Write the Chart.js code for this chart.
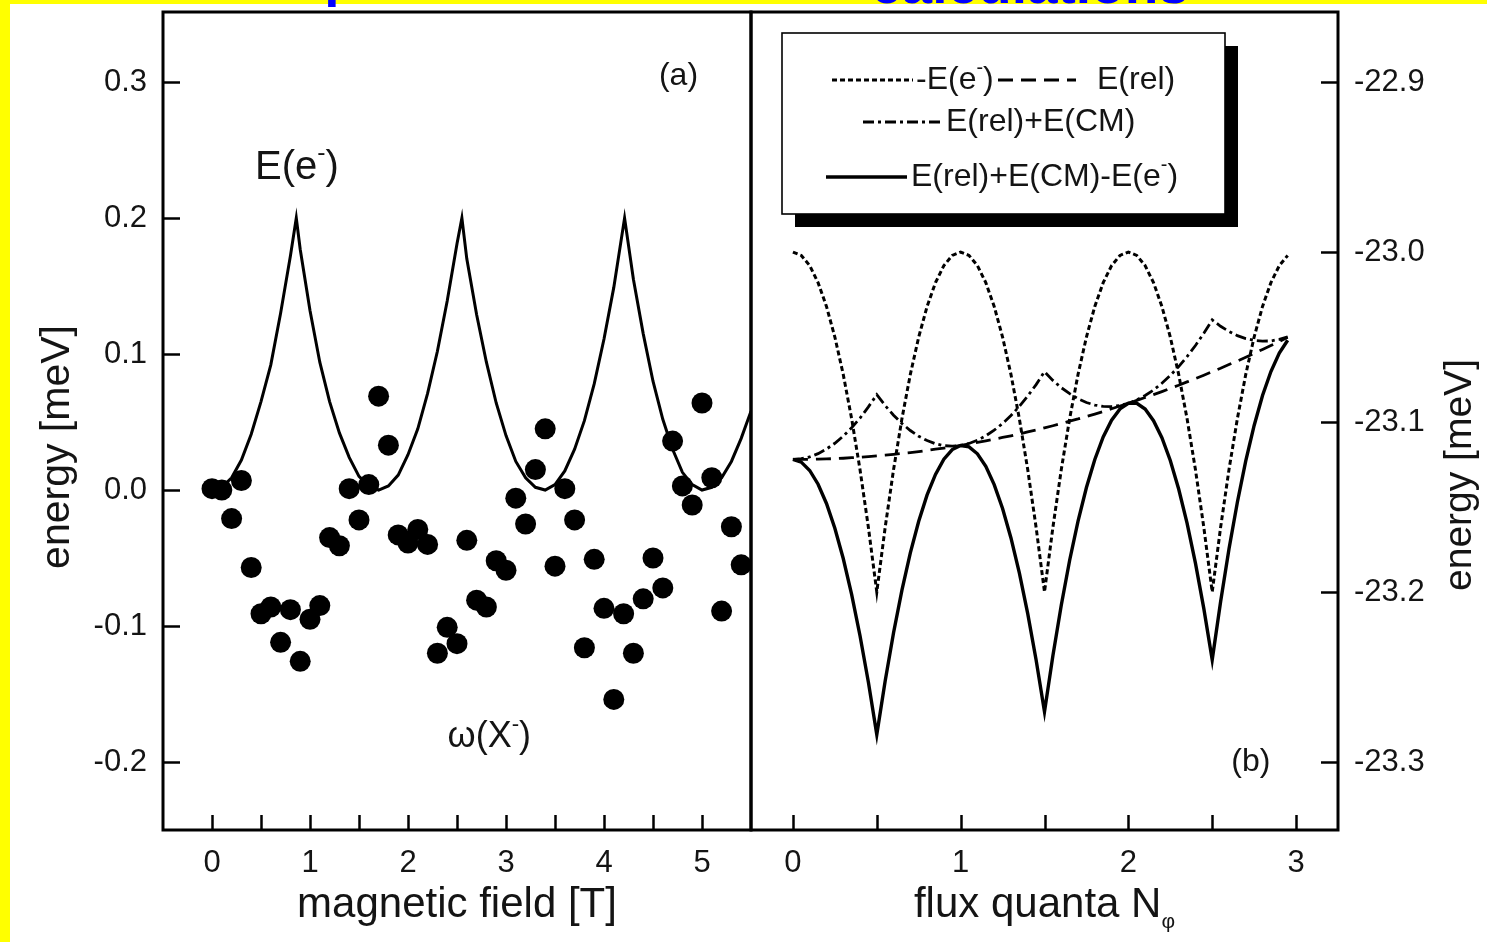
<!DOCTYPE html>
<html>
<head>
<meta charset="utf-8">
<title>X- line shift and model energies</title>
<script src="https://cdn.jsdelivr.net/npm/chart.js@4.4.1/dist/chart.umd.min.js"></script>
<style>
  html, body { margin: 0; padding: 0; }
  body { width: 1487px; height: 942px; background: #ffff00; position: relative; overflow: hidden;
         font-family: "Liberation Sans", Arial, Helvetica, sans-serif; }
  #sheet { position: absolute; left: 10px; top: 4px; right: 0; bottom: 0; background: #fff; }
  canvas { position: absolute; left: 0; top: 0; }
  .slide-title { position: absolute; color: #0000ff; font-weight: bold; font-size: 55px;
                 line-height: 55px; white-space: nowrap; }
</style>
</head>
<body>
<div id="sheet"></div>
<canvas id="panelA" width="1487" height="942"></canvas>
<canvas id="panelB" width="1487" height="942"></canvas>
<div class="slide-title" style="left:202px; top:-51px;">Comparison</div>
<div class="slide-title" style="left:871px; top:-43px;">calculations</div>

<script>
// ---- panel (a): measured X- line position vs magnetic field ----
const fieldT = [0,0.1,0.2,0.3,0.4,0.5,0.6,0.7,0.8,0.9,1.0,1.1,1.2,1.3,1.4,1.5,1.6,1.7,1.8,1.9,
  2.0,2.1,2.2,2.3,2.4,2.5,2.6,2.7,2.8,2.9,3.0,3.1,3.2,3.3,3.4,3.5,3.6,3.7,3.8,3.9,
  4.0,4.1,4.2,4.3,4.4,4.5,4.6,4.7,4.8,4.9,5.0,5.1,5.2,5.3,5.4];
const xMinusShift = [0.001,0.000,-0.021,0.007,-0.057,-0.091,-0.086,-0.112,-0.088,-0.126,
  -0.095,-0.085,-0.035,-0.041,0.001,-0.022,0.004,0.069,0.033,-0.033,
  -0.039,-0.029,-0.040,-0.120,-0.101,-0.113,-0.037,-0.081,-0.086,-0.052,
  -0.059,-0.006,-0.025,0.015,0.045,-0.056,0.001,-0.022,-0.116,-0.051,
  -0.087,-0.154,-0.091,-0.120,-0.080,-0.050,-0.072,0.036,0.003,-0.011,
  0.064,0.009,-0.089,-0.027,-0.055];

// single-electron energy E(e-) along the field axis
const curveField = [0.1,0.2,0.3,0.4,0.5,0.6,0.7,0.8,0.86,0.9,1.0,1.1,1.2,1.3,1.4,1.5,1.6,1.7,1.8,1.9,
  2.0,2.1,2.2,2.3,2.4,2.5,2.55,2.6,2.7,2.8,2.9,3.0,3.1,3.2,3.3,3.4,3.5,3.6,3.7,3.8,3.9,
  4.0,4.1,4.21,4.3,4.4,4.5,4.6,4.7,4.8,4.9,5.0,5.1,5.2,5.3,5.4,5.5];
const curveEnergy = [0.002,0.009,0.022,0.041,0.065,0.092,0.130,0.172,0.200,0.177,0.132,0.094,0.065,0.042,0.024,0.010,0.003,0.000,0.003,0.011,
  0.026,0.045,0.071,0.102,0.139,0.181,0.200,0.170,0.129,0.094,0.064,0.040,0.021,0.009,0.002,0.000,0.004,0.014,0.030,0.051,0.078,
  0.111,0.149,0.200,0.155,0.115,0.080,0.052,0.030,0.013,0.004,0.000,0.002,0.009,0.021,0.038,0.058];

const tickFieldT = [0, 1, 2, 3, 4, 5];
const minorFieldT = [0.5, 1.5, 2.5, 3.5, 4.5];
const tickEnergyA = [-0.2, -0.1, 0.0, 0.1, 0.2, 0.3];

// ---- panel (b): model energies vs number of flux quanta ----
const fluxN = [0,0.05,0.1,0.15,0.2,0.25,0.3,0.35,0.4,0.45,0.5,0.55,0.6,0.65,0.7,0.75,0.8,0.85,0.9,0.95,
  1.0,1.05,1.1,1.15,1.2,1.25,1.3,1.35,1.4,1.45,1.5,1.55,1.6,1.65,1.7,1.75,1.8,1.85,1.9,1.95,
  2.0,2.05,2.1,2.15,2.2,2.25,2.3,2.35,2.4,2.45,2.5,2.55,2.6,2.65,2.7,2.75,2.8,2.85,2.9,2.95];
const minusEe = [-23.000,-23.002,-23.008,-23.018,-23.032,-23.050,-23.072,-23.098,-23.128,-23.162,
  -23.200,-23.162,-23.128,-23.098,-23.072,-23.050,-23.032,-23.018,-23.008,-23.002,
  -23.000,-23.002,-23.008,-23.018,-23.032,-23.050,-23.072,-23.098,-23.128,-23.162,
  -23.200,-23.162,-23.128,-23.098,-23.072,-23.050,-23.032,-23.018,-23.008,-23.002,
  -23.000,-23.002,-23.008,-23.018,-23.032,-23.050,-23.072,-23.098,-23.128,-23.162,
  -23.200,-23.162,-23.128,-23.098,-23.072,-23.050,-23.032,-23.018,-23.008,-23.002];
const eRel = [-23.1220,-23.1220,-23.1219,-23.1218,-23.1217,-23.1215,-23.1213,-23.1210,-23.1207,-23.1203,
  -23.1199,-23.1195,-23.1190,-23.1185,-23.1180,-23.1174,-23.1167,-23.1160,-23.1153,-23.1146,
  -23.1138,-23.1129,-23.1120,-23.1111,-23.1101,-23.1091,-23.1081,-23.1070,-23.1058,-23.1047,
  -23.1034,-23.1022,-23.1009,-23.0995,-23.0982,-23.0967,-23.0953,-23.0938,-23.0922,-23.0906,
  -23.0890,-23.0873,-23.0856,-23.0839,-23.0821,-23.0802,-23.0784,-23.0764,-23.0745,-23.0725,
  -23.0704,-23.0684,-23.0662,-23.0641,-23.0619,-23.0596,-23.0573,-23.0550,-23.0526,-23.0502];
const eRelCm = [-23.1220,-23.1216,-23.1205,-23.1186,-23.1159,-23.1125,-23.1083,-23.1034,-23.0977,-23.0911,
  -23.0839,-23.0903,-23.0960,-23.1009,-23.1050,-23.1084,-23.1109,-23.1128,-23.1139,-23.1142,
  -23.1138,-23.1126,-23.1107,-23.1081,-23.1048,-23.1009,-23.0962,-23.0908,-23.0847,-23.0780,
  -23.0704,-23.0755,-23.0798,-23.0833,-23.0863,-23.0885,-23.0900,-23.0908,-23.0909,-23.0903,
  -23.0890,-23.0870,-23.0844,-23.0812,-23.0772,-23.0726,-23.0674,-23.0615,-23.0550,-23.0478,
  -23.0399,-23.0437,-23.0467,-23.0492,-23.0509,-23.0520,-23.0524,-23.0523,-23.0514,-23.0499];
const eTotal = [-23.1220,-23.1236,-23.1285,-23.1366,-23.1479,-23.1625,-23.1803,-23.2014,-23.2257,-23.2531,
  -23.2839,-23.2523,-23.2240,-23.1989,-23.1770,-23.1584,-23.1429,-23.1308,-23.1219,-23.1162,
  -23.1138,-23.1146,-23.1187,-23.1261,-23.1368,-23.1509,-23.1682,-23.1888,-23.2127,-23.2400,
  -23.2704,-23.2375,-23.2078,-23.1813,-23.1583,-23.1385,-23.1220,-23.1088,-23.0989,-23.0923,
  -23.0890,-23.0890,-23.0924,-23.0992,-23.1092,-23.1226,-23.1394,-23.1595,-23.1830,-23.2098,
  -23.2399,-23.2057,-23.1747,-23.1472,-23.1229,-23.1020,-23.0844,-23.0703,-23.0594,-23.0519];

const tickFlux = [0, 1, 2, 3];
const minorFlux = [0.5, 1.5, 2.5];
const tickEnergyB = [-23.3, -23.2, -23.1, -23.0, -22.9];

// ---------------------------------------------------------------
const PAGE_W = 1487, PAGE_H = 942;
const BOX = { left: 163, mid: 751, right: 1338, top: 12, bottom: 830 };
const INK = '#141414';
const FONT = '"Liberation Sans", Arial, Helvetica, sans-serif';

Chart.defaults.font.family = FONT;
Chart.defaults.color = INK;
Chart.defaults.animation = false;

const pairs = (xs, ys) => xs.map((x, i) => ({ x, y: ys[i] }));

// text with optional raised / lowered pieces, e.g. E(e^-) or N_phi
function richWidth(ctx, parts, size) {
  let w = 0;
  parts.forEach(p => {
    const s = typeof p === 'string' ? size : size * (p.scale || 0.6);
    ctx.font = `${s}px ${FONT}`;
    w += ctx.measureText(typeof p === 'string' ? p : p.t).width;
  });
  return w;
}
function drawRich(ctx, parts, x, y, size, align) {
  ctx.save();
  ctx.textBaseline = 'middle';
  ctx.textAlign = 'left';
  ctx.fillStyle = INK;
  const w = richWidth(ctx, parts, size);
  let cx = align === 'center' ? x - w / 2 : align === 'right' ? x - w : x;
  parts.forEach(p => {
    if (typeof p === 'string') {
      ctx.font = `${size}px ${FONT}`;
      ctx.fillText(p, cx, y);
      cx += ctx.measureText(p).width;
    } else {
      const s = size * (p.scale || 0.6);
      ctx.font = `${s}px ${FONT}`;
      ctx.fillText(p.t, cx, y + size * (p.dy || -0.33));
      cx += ctx.measureText(p.t).width;
    }
  });
  ctx.restore();
}

// frame, inward tick marks, annotations and axis titles
const paperDecor = {
  id: 'paperDecor',
  afterDraw(chart, args, opts) {
    const { ctx, chartArea: a } = chart;
    ctx.save();
    ctx.strokeStyle = '#000';
    ctx.lineWidth = 2.5;
    Object.values(chart.scales).forEach(s => {
      const minor = (opts.minor && opts.minor[s.id]) || [];
      const vals = s.ticks.map(t => t.value).concat(minor);
      vals.forEach(v => {
        const p = Math.round(s.getPixelForValue(v)) + 0.5;
        ctx.beginPath();
        if (s.isHorizontal()) { ctx.moveTo(p, a.bottom); ctx.lineTo(p, a.bottom - 15); }
        else if (s.position === 'left') { ctx.moveTo(a.left, p); ctx.lineTo(a.left + 17, p); }
        else { ctx.moveTo(a.right, p); ctx.lineTo(a.right - 17, p); }
        ctx.stroke();
      });
    });
    ctx.lineWidth = 3;
    ctx.strokeRect(a.left, a.top, a.width, a.height);
    ctx.restore();

    (opts.notes || []).forEach(n => {
      const sx = chart.scales.x.getPixelForValue(n.x);
      const sy = chart.scales.y.getPixelForValue(n.y);
      drawRich(ctx, n.parts, sx, sy, n.size, n.align);
    });

    const xt = opts.xTitle;
    if (xt) drawRich(ctx, xt.parts, (a.left + a.right) / 2, xt.y, xt.size, 'center');
    const yt = opts.yTitle;
    if (yt) {
      ctx.save();
      ctx.translate(yt.x, yt.y);
      ctx.rotate(-Math.PI / 2);
      drawRich(ctx, yt.parts, 0, 0, yt.size, 'center');
      ctx.restore();
    }
  }
};

// framed key with a drop shadow, drawn from the dataset styles
const shadowKey = {
  id: 'shadowKey',
  afterDraw(chart, args, opts) {
    if (!opts.rows) return;
    const { ctx } = chart;
    const b = opts.box;
    ctx.save();
    ctx.fillStyle = '#000';
    ctx.fillRect(b.x + 13, b.y + 13, b.w, b.h);
    ctx.fillStyle = '#fff';
    ctx.fillRect(b.x, b.y, b.w, b.h);
    ctx.strokeStyle = '#000';
    ctx.lineWidth = 1.6;
    ctx.strokeRect(b.x, b.y, b.w, b.h);
    opts.rows.forEach(r => {
      const ds = chart.data.datasets[r.ds];
      ctx.save();
      ctx.strokeStyle = ds.borderColor;
      ctx.lineWidth = ds.borderWidth;
      ctx.setLineDash(ds.borderDash || []);
      ctx.beginPath();
      ctx.moveTo(r.x0, r.y);
      ctx.lineTo(r.x1, r.y);
      ctx.stroke();
      ctx.restore();
      drawRich(ctx, r.parts, r.tx, r.y, opts.size, 'left');
    });
    ctx.restore();
  }
};

const SUP_MINUS = { t: '-', scale: 0.62, dy: -0.36 };

function yAxisCommon(min, max, ticksArr, width, position) {
  return {
    type: 'linear', position, min, max,
    grid: { display: false, drawTicks: false },
    border: { display: false },
    ticks: { font: { size: 31 }, padding: 16, color: INK, callback: v => Number(v).toFixed(1) },
    afterBuildTicks: s => { s.ticks = ticksArr.map(v => ({ value: v })); },
    afterFit: s => { s.width = width; s.paddingTop = 0; s.paddingBottom = 0; }
  };
}
function xAxisCommon(min, max, ticksArr) {
  return {
    type: 'linear', position: 'bottom', min, max,
    grid: { display: false, drawTicks: false },
    border: { display: false },
    ticks: { font: { size: 31 }, padding: 15, color: INK, callback: v => String(v) },
    afterBuildTicks: s => { s.ticks = ticksArr.map(v => ({ value: v })); },
    afterFit: s => { s.height = PAGE_H - BOX.bottom; s.paddingLeft = 0; s.paddingRight = 0; }
  };
}

new Chart(document.getElementById('panelA'), {
  type: 'scatter',
  data: {
    datasets: [
      { label: 'E(e-)', data: pairs(curveField, curveEnergy), showLine: true,
        borderColor: '#000', borderWidth: 3, pointRadius: 0, tension: 0, order: 2 },
      { label: 'omega(X-)', data: pairs(fieldT, xMinusShift),
        backgroundColor: '#000', borderColor: '#000', borderWidth: 0, pointRadius: 10.5, order: 1 }
    ]
  },
  options: {
    responsive: false, animation: false, events: [],
    layout: { padding: { left: 0, top: BOX.top, right: PAGE_W - BOX.mid, bottom: 0 } },
    plugins: {
      legend: { display: false }, tooltip: { enabled: false },
      paperDecor: {
        minor: { x: minorFieldT },
        notes: [
          { parts: ['(a)'], x: 4.76, y: 0.304, size: 32, align: 'center' },
          { parts: ['E(e', SUP_MINUS, ')'], x: 0.44, y: 0.237, size: 40, align: 'left' },
          { parts: ['\u03c9(X', SUP_MINUS, ')'], x: 2.83, y: -0.182, size: 36, align: 'center' }
        ],
        xTitle: { parts: ['magnetic field [T]'], y: 905, size: 42 },
        yTitle: { parts: ['energy [meV]'], x: 58, y: 447, size: 41 }
      }
    },
    scales: {
      x: xAxisCommon(-0.5, 5.5, tickFieldT),
      y: yAxisCommon(-0.25, 0.3515, tickEnergyA, BOX.left, 'left')
    }
  },
  plugins: [paperDecor]
});

new Chart(document.getElementById('panelB'), {
  type: 'scatter',
  data: {
    datasets: [
      { label: '-E(e-)', data: pairs(fluxN, minusEe), showLine: true, borderColor: '#000',
        borderWidth: 3, borderDash: [5, 3], pointRadius: 0, tension: 0 },
      { label: 'E(rel)', data: pairs(fluxN, eRel), showLine: true, borderColor: '#000',
        borderWidth: 2.8, borderDash: [15, 8], pointRadius: 0, tension: 0 },
      { label: 'E(rel)+E(CM)', data: pairs(fluxN, eRelCm), showLine: true, borderColor: '#000',
        borderWidth: 2.8, borderDash: [11, 4, 3, 4], pointRadius: 0, tension: 0 },
      { label: 'E(rel)+E(CM)-E(e-)', data: pairs(fluxN, eTotal), showLine: true, borderColor: '#000',
        borderWidth: 3.4, pointRadius: 0, tension: 0 }
    ]
  },
  options: {
    responsive: false, animation: false, events: [],
    layout: { padding: { left: BOX.mid, top: BOX.top, right: 0, bottom: 0 } },
    plugins: {
      legend: { display: false }, tooltip: { enabled: false },
      paperDecor: {
        minor: { x: minorFlux },
        notes: [
          { parts: ['(b)'], x: 2.73, y: -23.3, size: 32, align: 'center' }
        ],
        xTitle: { parts: ['flux quanta N', { t: '\u03c6', scale: 0.5, dy: 0.42 }], y: 905, size: 42 },
        yTitle: { parts: ['energy [meV]'], x: 1460, y: 475, size: 39 }
      },
      shadowKey: {
        box: { x: 782, y: 33, w: 443, h: 181 },
        size: 32,
        rows: [
          { ds: 0, x0: 832, x1: 913, y: 80, tx: 916, parts: ['-E(e', SUP_MINUS, ')'] },
          { ds: 1, x0: 998, x1: 1076, y: 80, tx: 1097, parts: ['E(rel)'] },
          { ds: 2, x0: 863, x1: 942, y: 122, tx: 946, parts: ['E(rel)+E(CM)'] },
          { ds: 3, x0: 826, x1: 907, y: 177, tx: 911, parts: ['E(rel)+E(CM)-E(e', SUP_MINUS, ')'] }
        ]
      }
    },
    scales: {
      x: xAxisCommon(-0.25, 3.25, tickFlux),
      y: yAxisCommon(-23.34, -22.8588, tickEnergyB, PAGE_W - BOX.right, 'right')
    }
  },
  plugins: [paperDecor, shadowKey]
});
</script>
</body>
</html>
